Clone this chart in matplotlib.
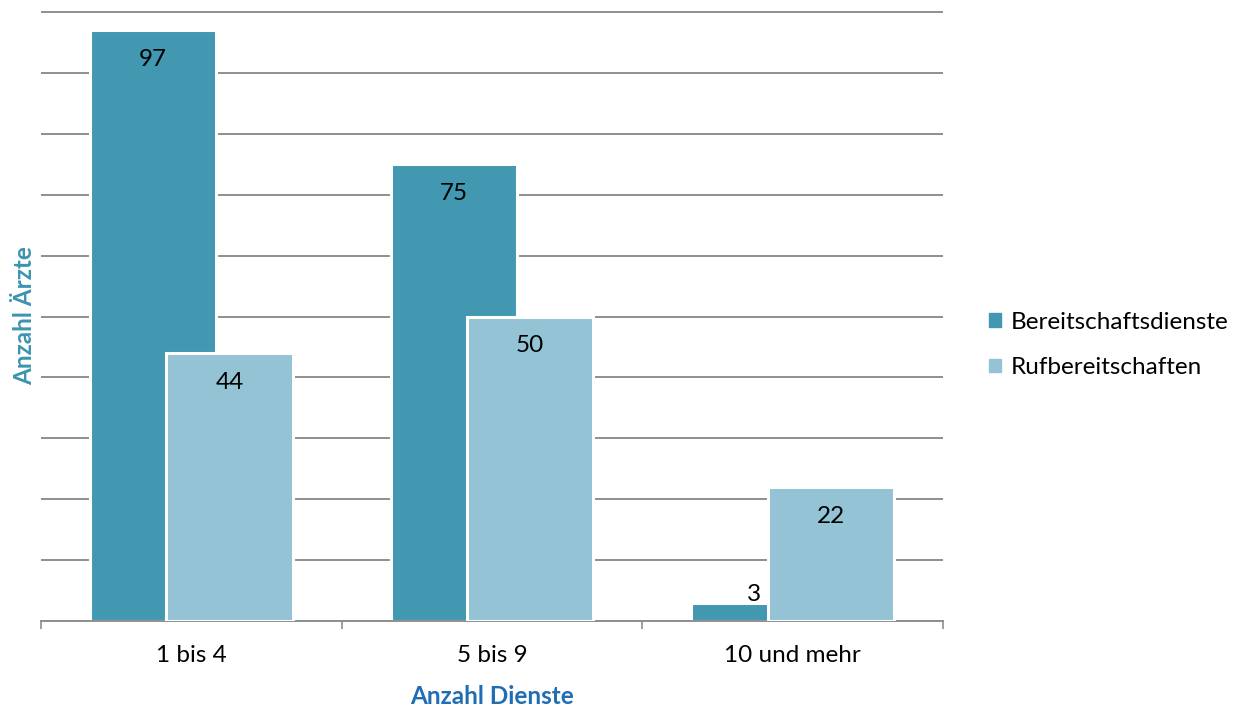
import matplotlib
matplotlib.use('Agg')
from matplotlib import pyplot as plt
from matplotlib.patches import Patch
import numpy as np

# Daten
kategorien = ['1 bis 4', '5 bis 9', '10 und mehr']
bereitschaftsdienste = [97, 75, 3]
rufbereitschaften = [44, 50, 22]

farbe_dunkel = '#4298B0'
farbe_hell = '#94C3D5'
grau = '#8E8E8E'

plt.rcParams['font.family'] = ['Lato', 'DejaVu Sans']
fs = 17.5

fig = plt.figure(figsize=(12.47, 7.11), dpi=100)
ax = fig.add_axes([41 / 1247, 1 - 621 / 711, (943 - 41) / 1247, (621 - 11) / 711])

x = np.arange(len(kategorien))
breite = 0.42
versatz = 0.127

bars1 = ax.bar(x - versatz, bereitschaftsdienste, breite, color=farbe_dunkel,
               edgecolor='white', linewidth=2.2, zorder=2)
bars2 = ax.bar(x + versatz, rufbereitschaften, breite, color=farbe_hell,
               edgecolor='white', linewidth=2.2, zorder=3)

# Beschriftungen innerhalb der Balken (oder darüber, wenn zu klein)
for bars in (bars1, bars2):
    for b in bars:
        h = b.get_height()
        cx = b.get_x() + b.get_width() / 2
        if h > 10:
            ax.annotate(f'{h:.0f}', (cx, h), xytext=(0, -21), textcoords='offset points',
                        ha='center', va='center', fontsize=fs, color='black', zorder=5)
        else:
            ax.annotate(f'{h:.0f}', (cx, h), xytext=(0, 6), textcoords='offset points',
                        ha='center', va='center', fontsize=fs, color='black', zorder=1.5)

ax.set_xlim(-0.5, 2.5)
ax.set_ylim(0, 100.2)
ax.set_yticks(np.arange(0, 101, 10))
ax.set_yticklabels([])
ax.tick_params(axis='y', length=0)
ax.yaxis.grid(True, color=grau, linewidth=1.4, zorder=0)
ax.set_axisbelow(True)

ax.set_xticks(x)
ax.set_xticklabels(kategorien, fontsize=fs)
ax.set_xticks([-0.5, 0.5, 1.5, 2.5], minor=True)
ax.tick_params(axis='x', which='major', length=0, pad=17)
ax.tick_params(axis='x', which='minor', length=6, width=1.2, color=grau, direction='out')

for s in ('left', 'right', 'top'):
    ax.spines[s].set_visible(False)
ax.spines['bottom'].set_color(grau)
ax.spines['bottom'].set_linewidth(1.4)

ax.set_xlabel('Anzahl Dienste', fontsize=fs, fontweight='bold', color='#1F6EB4', labelpad=14)
ax.set_ylabel('Anzahl Ärzte', fontsize=fs, fontweight='bold', color='#3C94AF', labelpad=0)

handles = [Patch(color=farbe_dunkel, label='Bereitschaftsdienste'),
           Patch(color=farbe_hell, label='Rufbereitschaften')]
fig.legend(handles=handles, loc='center left', bbox_to_anchor=(989 / 1247, 1 - 345 / 711),
           frameon=False, fontsize=fs, handlelength=0.5, handleheight=0.5,
           handletextpad=0.4, labelspacing=1.0, borderpad=0, borderaxespad=0)

fig.savefig('out.png', dpi=100)
plt.close(fig)
